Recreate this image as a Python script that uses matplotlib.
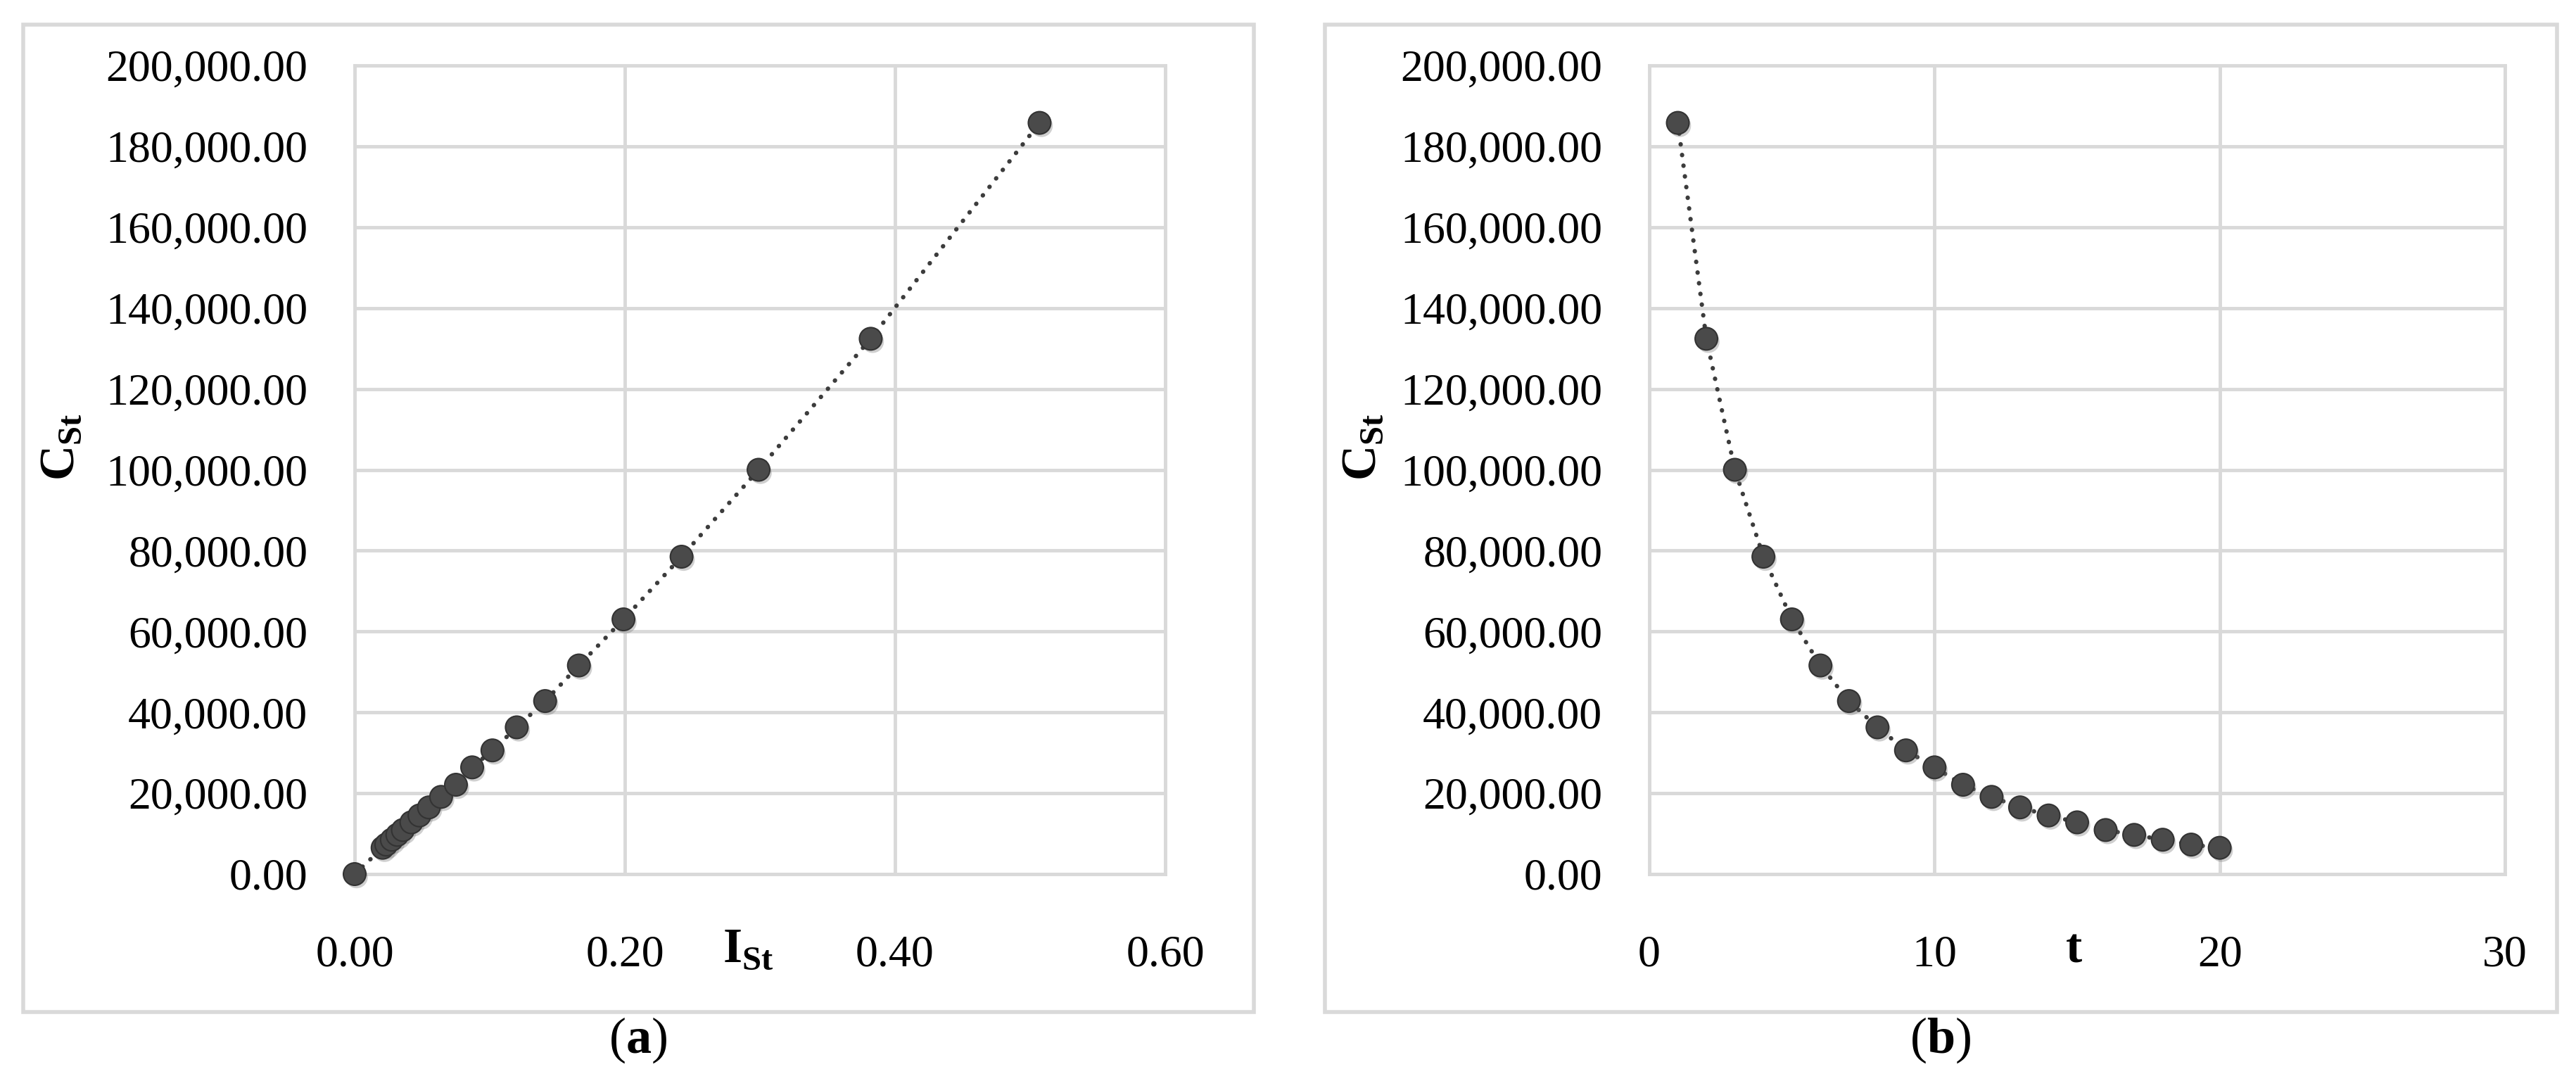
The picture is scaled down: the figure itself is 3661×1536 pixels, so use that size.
import matplotlib

matplotlib.use("Agg")
import matplotlib.pyplot as plt
import matplotlib.patheffects as pe
from matplotlib.patches import Rectangle
from matplotlib.ticker import FuncFormatter


# Storage cost C_St against storage intensity I_St (panel a) and time t (panel b)
intensity = [0.0, 0.0207, 0.0234, 0.0275, 0.0316, 0.0357, 0.042, 0.048, 0.055,
             0.064, 0.075, 0.087, 0.102, 0.120, 0.141, 0.166, 0.199, 0.242,
             0.299, 0.382, 0.507]
cost_a = [0, 6500, 7300, 8500, 9700, 10900, 12800, 14500, 16500, 19100, 22100,
          26400, 30600, 36300, 42800, 51600, 63000, 78500, 100000, 132400, 185800]

periods = list(range(1, 21))
cost_b = [185800, 132400, 100000, 78500, 63000, 51600, 42800, 36300, 30600,
          26400, 22100, 19100, 16500, 14500, 12800, 10900, 9700, 8500, 7300, 6500]

a_xticks = [0.0, 0.2, 0.4, 0.6]
b_xticks = [0, 10, 20, 30]
yticks = list(range(0, 200001, 20000))

W, H = 3662, 1536
GRID = "#d9d9d9"
MARK = "#4a4a4a"
FONT = "Liberation Serif"

plt.rcParams["font.family"] = [FONT, "DejaVu Serif"]
plt.rcParams["mathtext.fontset"] = "custom"
plt.rcParams["mathtext.rm"] = FONT
plt.rcParams["mathtext.bf"] = FONT + ":bold"


def _frac(x0, y0, x1, y1):
    return [x0 / W, 1 - y1 / H, (x1 - x0) / W, (y1 - y0) / H]


def _style(ax, xticks, xfmt):
    ax.set_ylim(0, 200000)
    ax.set_xlim(xticks[0], xticks[-1])
    ax.set_xticks(xticks)
    ax.set_yticks(yticks)
    ax.xaxis.set_major_formatter(FuncFormatter(xfmt))
    ax.yaxis.set_major_formatter(FuncFormatter(lambda v, _: f"{v:,.2f}"))
    ax.grid(True, color=GRID, linewidth=3.5)
    ax.set_axisbelow(True)
    for sp in ax.spines.values():
        sp.set_color(GRID)
        sp.set_linewidth(3.5)
    ax.tick_params(axis="both", length=0, labelsize=46)
    ax.tick_params(axis="y", pad=48)
    ax.tick_params(axis="x", pad=62)


def _scatter(ax, x, y):
    ax.plot(x, y, linestyle=(0, (0.05, 2.4)), color="#3c3c3c", linewidth=4.5,
            dash_capstyle="round", zorder=2, clip_on=False)
    ax.plot(x, y, linestyle="none", marker="o", markersize=23,
            markerfacecolor=MARK, markeredgecolor="#333333", markeredgewidth=1.5,
            zorder=3, clip_on=False,
            path_effects=[pe.SimplePatchShadow(offset=(2, -3), shadow_rgbFace="#777777", alpha=0.35),
                          pe.Normal()])


fig = plt.figure(figsize=(W / 100, H / 100), dpi=100)

# panel frames
for x0, x1 in [(33, 1782), (1883, 3634)]:
    fig.add_artist(Rectangle((x0 / W, 1 - 1438 / H), (x1 - x0) / W, (1438 - 35) / H,
                             transform=fig.transFigure, fill=False,
                             edgecolor=GRID, linewidth=4))

ax_a = fig.add_axes(_frac(504, 93, 1656, 1242))
_style(ax_a, a_xticks, lambda v, _: f"{v:.2f}")
_scatter(ax_a, intensity, cost_a)

ax_b = fig.add_axes(_frac(2344, 93, 3560, 1242))
_style(ax_b, b_xticks, lambda v, _: f"{v:.0f}")
_scatter(ax_b, periods, cost_b)

ylab = r"$\mathbf{C}_{\mathbf{St}}$"
fig.text(88 / W, 1 - 635 / H, ylab, rotation=90, ha="center", va="center", fontsize=50)
fig.text(1938 / W, 1 - 635 / H, ylab, rotation=90, ha="center", va="center", fontsize=50)
fig.text(1063 / W, 1 - 1350 / H, r"$\mathbf{I}_{\mathbf{St}}$", ha="center", va="center", fontsize=50)
fig.text(2947 / W, 1 - 1350 / H, r"$\mathbf{t}$", ha="center", va="center", fontsize=50)

fig.text(907 / W, 1 - 1478 / H, r"$(\mathbf{a})$", ha="center", va="center", fontsize=52)
fig.text(2758 / W, 1 - 1478 / H, r"$(\mathbf{b})$", ha="center", va="center", fontsize=52)

fig.savefig("out.png", dpi=100, facecolor="white")
